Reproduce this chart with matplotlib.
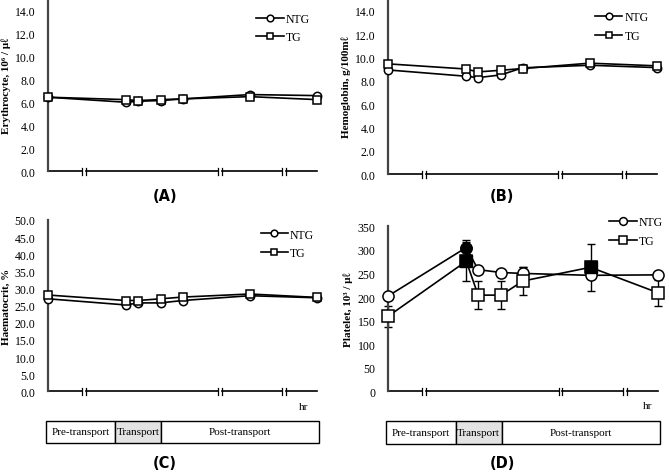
import numpy as np
import matplotlib
matplotlib.use('Agg')
import matplotlib.pyplot as plt
from matplotlib.patches import Rectangle
import matplotlib.transforms as mtrans

plt.rcParams['font.family'] = ['Liberation Serif', 'DejaVu Serif']

# sampling time positions on the (broken) time axis
time_x = [0, 2.32, 2.67, 3.35, 4.0, 6.0, 8.0]
axis_breaks = [1.07, 5.12, 7.02]

# (A) erythrocyte
ery_ntg = [6.45, 6.01, 6.10, 6.16, 6.30, 6.68, 6.59]
ery_tg = [6.45, 6.24, 6.16, 6.24, 6.30, 6.50, 6.24]
# (B) hemoglobin
hgb_ntg = [8.92, 8.38, 8.26, 8.49, 9.10, 9.32, 9.12]
hgb_tg = [9.44, 9.00, 8.75, 8.89, 9.04, 9.50, 9.27]
# (C) haematocrit
hct_ntg = [27.0, 25.2, 25.8, 25.8, 26.5, 27.9, 27.3]
hct_tg = [28.1, 26.5, 26.5, 27.0, 27.5, 28.4, 27.4]
# (D) platelet
plt_ntg = [202, 305, 258, 252, 250, 246, 247]
plt_tg = [159, 276, 204, 204, 234, 263, 209]
plt_ntg_err = [0, 15, 0, 0, 13, 0, 0]
plt_tg_err = [23, 41, 29, 30, 30, 50, 28]
plt_ntg_sig = [False, True, False, False, False, False, False]
plt_tg_sig = [False, True, False, False, False, True, False]

phase_names = ['Pre-transport', 'Transport', 'Post-transport']
phase_edges = [-0.05, 2.0, 3.37, 8.05]
phase_colors = ['white', '#e3e3e3', 'white']

W, H = 669, 477
fig = plt.figure(figsize=(W / 100, H / 100), dpi=100)

def px_axes(left, top, right, bottom):
    return fig.add_axes([left / W, 1 - bottom / H, (right - left) / W, (bottom - top) / H])

SPINE = '#444444'

def style_axes(ax, ylim, yticks, fmt, ylabel):
    ax.set_xlim(0, 8)
    ax.set_ylim(*ylim)
    ax.set_yticks(yticks)
    ax.set_yticklabels([fmt.format(v) for v in yticks], fontsize=8.5)
    ax.tick_params(axis='y', length=0, pad=9)
    ax.set_xticks([])
    for s in ['top', 'right', 'bottom']:
        ax.spines[s].set_visible(False)
    ax.spines['left'].set_color(SPINE)
    ax.spines['left'].set_linewidth(1.6)
    ax.set_ylabel(ylabel, fontsize=8, fontweight='bold', labelpad=3)
    # broken x axis
    tr = mtrans.blended_transform_factory(ax.transData, ax.transAxes)
    gap = 0.05
    starts = [0] + [b + gap for b in axis_breaks]
    ends = [b - gap for b in axis_breaks] + [8]
    for a, b in zip(starts, ends):
        ax.plot([a, b], [0, 0], color='black', lw=1.2, transform=tr, clip_on=False)
    for b in axis_breaks:
        for xb in (b - gap, b + gap):
            ax.plot([xb, xb], [-0.022, 0.018], color='black', lw=0.9, transform=tr, clip_on=False)

def draw_series(ax, ntg, tg, ms=6):
    ax.plot(time_x, ntg, '-o', color='black', lw=1.2, ms=ms, mfc='white', mec='black',
            mew=1.1, label='NTG', clip_on=False, zorder=3)
    ax.plot(time_x, tg, '-s', color='black', lw=1.2, ms=ms, mfc='white', mec='black',
            mew=1.1, label='TG', clip_on=False, zorder=3)

def add_legend(ax, x, y, scale=0.8):
    ax.legend(loc='upper left', bbox_to_anchor=(x, y), frameon=False, fontsize=8.5,
              handlelength=2.3, handletextpad=0.2, labelspacing=0.55, markerscale=scale,
              borderaxespad=0, borderpad=0)

def phase_box(left, right, top, bottom):
    pax = px_axes(left, top, right, bottom)
    pax.set_xlim(0, 8)
    pax.set_ylim(0, 1)
    pax.axis('off')
    for i, name in enumerate(phase_names):
        x0, x1 = phase_edges[i], phase_edges[i + 1]
        pax.add_patch(Rectangle((x0, 0), x1 - x0, 1, facecolor=phase_colors[i],
                                edgecolor='black', lw=1.0, clip_on=False))
        pax.text((x0 + x1) / 2, 0.5, name, ha='center', va='center', fontsize=8)

# (A)
axA = px_axes(48, 0, 317, 172.3)
draw_series(axA, ery_ntg, ery_tg)
style_axes(axA, (0, 15), np.arange(0, 15, 2.0), '{:.1f}', 'Erythrocyte, 10⁶ / μℓ')
add_legend(axA, 0.775, 0.92)

# (B)
axB = px_axes(388, 0, 657, 175)
draw_series(axB, hgb_ntg, hgb_tg)
style_axes(axB, (0, 15), np.arange(0, 15, 2.0), '{:.1f}', 'Hemoglobin, g/100mℓ')
add_legend(axB, 0.77, 0.93)

# (C)
axC = px_axes(48, 221, 317, 392.3)
draw_series(axC, hct_ntg, hct_tg)
style_axes(axC, (0, 50), np.arange(0, 51, 5.0), '{:.1f}', 'Haematocrit, %')
add_legend(axC, 0.79, 0.95)
axC.text(0.95, -0.06, 'hr', transform=axC.transAxes, fontsize=8, ha='center', va='top')
phase_box(48, 317, 422, 444)

# (D)
axD = px_axes(388, 227.3, 658, 392.3)
axD.errorbar(time_x, plt_ntg, yerr=plt_ntg_err, fmt='none', ecolor='black', elinewidth=1,
             capsize=3, capthick=1, zorder=2, clip_on=False)
axD.errorbar(time_x, plt_tg, yerr=plt_tg_err, fmt='none', ecolor='black', elinewidth=1,
             capsize=3, capthick=1, zorder=2, clip_on=False)
draw_series(axD, plt_ntg, plt_tg, ms=8)
for xv, yv, sig in zip(time_x, plt_ntg, plt_ntg_sig):
    if sig:
        axD.plot(xv, yv, 'o', ms=8, color='black', zorder=4, clip_on=False)
for xv, yv, sig in zip(time_x, plt_tg, plt_tg_sig):
    if sig:
        axD.plot(xv, yv, 's', ms=8, color='black', zorder=4, clip_on=False)
style_axes(axD, (0, 350), np.arange(0, 351, 50), '{:.0f}', 'Platelet, 10³ / μℓ')
add_legend(axD, 0.82, 1.06, scale=0.7)
axD.text(0.96, -0.06, 'hr', transform=axD.transAxes, fontsize=8, ha='center', va='top')
phase_box(388, 658, 422, 445)

# panel letters
for label, xp, yp in [('(A)', 165, 197), ('(B)', 502, 197), ('(C)', 165, 464), ('(D)', 502, 464)]:
    fig.text(xp / W, 1 - yp / H, label, family='DejaVu Sans', fontweight='bold',
             fontsize=10.5, ha='center', va='center')

fig.savefig('out.png', dpi=100)
